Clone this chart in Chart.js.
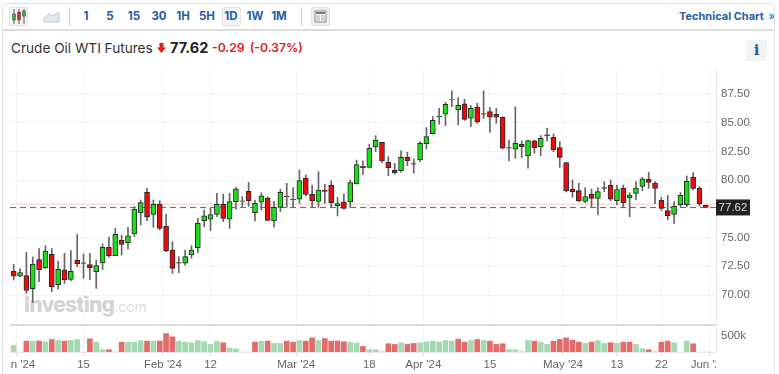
<!DOCTYPE html>
<html>
<head>
<meta charset="utf-8">
<title>Crude Oil WTI Futures</title>
<script src="https://cdn.jsdelivr.net/npm/chart.js@4"></script>
<style>
  html, body { margin: 0; padding: 0; background: #fff; width: 779px; height: 374px; overflow: hidden; }
  body { position: relative; font-family: Inter, "Liberation Sans", sans-serif; }
  .abs { position: absolute; white-space: nowrap; }
  #frame { left: 2px; top: 3px; width: 773px; height: 380px; border: 1px solid #e4e4e4; border-radius: 4px; box-sizing: border-box; z-index: 2; }
  #toolbarLine { left: 3px; top: 29px; width: 772px; height: 2px; background: #dcdcdc; }
  .sep { top: 7px; width: 1px; height: 19px; background: #cfcfcf; }
  .tf { top: 9px; width: 24px; text-align: center; font-size: 11.5px; font-weight: 700; color: #2360a5; line-height: 15px; }
  .box { border: 1px solid #e2e2e2; border-radius: 2px; background: #f4f4f4; box-sizing: border-box; }
  #title { left: 11px; top: 39px; font-size: 13.6px; color: #333; line-height: 18px; }
  #price { left: 170px; top: 39px; font-size: 14.5px; font-weight: 700; color: #222; line-height: 18px; }
  #change { left: 212px; top: 39px; font-size: 12.2px; font-weight: 600; color: #e0201c; line-height: 18px; word-spacing: 2px; }
  #tech { left: 679px; top: 9px; font-size: 11px; font-weight: 700; color: #2360a5; line-height: 15px; }
  #infoBox { left: 746px; top: 40px; width: 21px; height: 21px; background: #f3f3f3; text-align: center; color: #2360a5; font: 700 15px/21px "DejaVu Serif", serif; }
  #mark { left: 24px; top: 291px; font-size: 21px; font-weight: 800; color: #d4d4d4; letter-spacing: -0.75px; line-height: 28px; }
  #mark span { font-size: 14px; font-weight: 400; color: #dcdcdc; letter-spacing: 0; }
  #markDot { left: 83px; top: 295px; width: 3px; height: 3px; border-radius: 2px; background: #f7d3a6; }
  canvas { position: absolute; left: 0; top: 0; }
</style>
</head>
<body>
<div class="abs" id="frame"></div>
<div class="abs" id="toolbarLine"></div>

<div class="abs box" style="left:9px;top:7px;width:19px;height:19px"></div>
<svg class="abs" style="left:9px;top:7px" width="19" height="19">
  <path d="M5 2V17M10 2V17M15 2V17" stroke="#555" stroke-width="1"/>
  <rect x="3.5" y="7" width="3" height="6" fill="#2db52d" stroke="#555" stroke-width=".6"/>
  <rect x="8.5" y="5" width="3" height="8" fill="#e02020" stroke="#555" stroke-width=".6"/>
  <rect x="13.5" y="4" width="3" height="5" fill="#2db52d" stroke="#555" stroke-width=".6"/>
</svg>
<svg class="abs" style="left:43px;top:10px" width="17" height="13">
  <path d="M1 12V8L6 4L10 6L16 2V12Z" fill="#dfe7f2" stroke="#b7c7dc" stroke-width="1"/>
</svg>
<div class="abs sep" style="left:69px"></div>
<div class="abs tf" style="left:74px">1</div>
<div class="abs tf" style="left:98px">5</div>
<div class="abs tf" style="left:122px">15</div>
<div class="abs tf" style="left:147px">30</div>
<div class="abs tf" style="left:171px">1H</div>
<div class="abs tf" style="left:195px">5H</div>
<div class="abs box" style="left:222px;top:7px;width:19px;height:19px"></div>
<div class="abs tf" style="left:219px">1D</div>
<div class="abs tf" style="left:243px">1W</div>
<div class="abs tf" style="left:267px">1M</div>
<div class="abs sep" style="left:301px"></div>
<div class="abs box" style="left:311px;top:7px;width:19px;height:19px;background:#eee"></div>
<svg class="abs" style="left:311px;top:7px" width="19" height="19">
  <path d="M4 4H15V15H4Z" fill="#fff" stroke="#888" stroke-width="1"/>
  <path d="M5 6H14" stroke="#777" stroke-width="2"/>
  <path d="M5 9H9M5 11H9M5 13H9M10 9H14M10 11H14M10 13H14" stroke="#aaa" stroke-width="1"/>
</svg>
<div class="abs" id="tech">Technical Chart <span style="font-weight:400;margin-left:2px">»</span></div>

<div class="abs" id="title">Crude Oil WTI Futures</div>
<svg class="abs" style="left:157px;top:43px" width="9" height="10">
  <path d="M2.5 0H6.5V4.5H9L4.5 10L0 4.5H2.5Z" fill="#e0201c"/>
</svg>
<div class="abs" id="price">77.62</div>
<div class="abs" id="change">-0.29 (-0.37%)</div>
<div class="abs" id="infoBox">i</div>
<div class="abs" id="mark">Investing<span>.com</span></div>
<div class="abs" id="markDot"></div>

<canvas id="chart" width="779" height="374"></canvas>

<script>
var opens = [
  72.06,71.65,71.7,70.55,73.08,72.38,73.54,70.9,72.18,71.36,
  73.02,72.8,72.64,72.03,72.79,74.15,73.42,74.76,74.56,75.31,
  77.17,78.94,77.02,77.92,76.0,73.92,72.82,72.76,73.48,74.12,
  76.44,76.59,77.02,77.89,76.59,78.12,78.15,79.02,77.17,78.07,
  78.41,76.44,77.63,78.6,78.35,78.33,80.18,78.76,78.15,79.14,
  79.54,77.78,78.1,78.1,79.66,81.2,81.11,82.88,83.29,81.55,
  80.85,80.82,81.98,81.43,81.75,83.17,84.04,85.49,85.73,86.97,
  86.1,86.63,85.38,86.34,85.78,85.96,85.73,85.47,82.83,82.68,
  83.12,82.13,83.41,82.88,83.93,83.72,82.82,81.52,79.22,79.08,
  78.15,78.76,78.41,79.34,79.57,78.21,79.31,78.47,78.85,79.46,
  80.07,79.75,78.24,77.34,77.02,77.86,77.86,80.27,79.28,77.8
];
var closes = [
  71.65,71.95,70.4,72.7,72.2,73.83,70.73,72.24,71.34,72.06,
  72.7,72.74,72.38,72.55,74.15,73.42,75.28,74.41,75.14,77.46,
  78.04,76.82,77.89,75.8,73.83,72.32,72.76,73.34,73.92,76.24,
  76.9,76.99,77.89,76.67,78.12,79.23,78.2,78.21,77.98,78.62,
  76.5,77.63,78.94,78.55,78.3,79.95,78.76,78.18,79.14,79.02,
  78.04,77.95,77.54,79.78,81.34,81.09,82.77,83.49,81.67,81.09,
  80.65,81.98,81.69,81.38,83.2,83.78,85.2,85.58,86.6,87.0,
  86.51,85.29,86.25,85.06,85.73,85.47,85.47,82.77,82.77,83.2,
  82.88,83.43,82.83,83.64,83.84,82.62,81.98,79.05,78.99,78.18,
  78.56,78.41,78.99,79.28,78.33,79.17,78.04,78.7,79.31,80.12,
  79.8,79.28,77.54,76.9,77.72,78.67,79.89,79.28,77.95,77.62
];
var highs = [
  72.67,72.3,73.7,73.3,74.05,74.3,74.05,72.96,73.63,73.86,
  75.28,73.57,73.63,73.05,74.44,75.02,75.8,75.22,75.89,77.69,
  78.27,79.28,78.27,78.21,77.02,74.64,73.34,73.9,74.3,76.67,
  77.4,77.54,78.85,78.79,78.85,79.37,78.56,79.8,78.27,78.91,
  78.56,78.12,79.2,79.72,79.34,80.88,80.44,79.57,80.73,79.63,
  79.92,78.5,78.79,80.01,81.75,81.67,83.12,83.87,83.29,82.04,
  81.46,82.54,82.42,81.84,83.35,84.57,85.52,86.25,86.77,87.76,
  87.18,87.03,86.48,86.68,87.76,86.31,86.25,85.52,83.49,86.37,
  83.41,83.49,83.49,83.87,84.5,84.01,83.34,81.55,80.01,79.72,
  79.34,79.22,79.34,79.86,80.01,79.57,79.57,78.91,79.86,80.24,
  80.68,79.86,78.5,78.67,78.12,78.91,80.36,80.65,79.43,77.82
];
var lows = [
  71.3,71.6,70.15,69.35,71.15,72.3,70.3,70.5,71.0,71.25,
  72.47,71.45,71.36,70.58,72.23,73.28,73.42,73.48,74.0,75.08,
  76.1,76.47,75.89,75.66,73.77,71.89,71.95,72.6,73.2,73.68,
  75.95,75.6,76.82,76.38,75.8,77.46,77.7,77.7,76.44,77.4,
  76.47,75.9,77.25,77.63,77.63,77.98,78.62,77.63,77.63,77.98,
  77.63,76.88,77.46,77.63,79.66,80.5,81.09,82.48,81.52,80.39,
  80.53,80.68,81.26,80.59,81.61,82.71,84.0,84.86,84.74,86.39,
  84.8,85.2,84.65,84.94,85.38,84.16,84.94,82.71,81.67,81.9,
  81.96,81.03,82.33,82.13,83.41,82.47,81.11,78.96,78.5,78.12,
  78.04,77.63,76.96,78.99,78.21,77.83,77.63,76.82,78.27,79.08,
  79.28,77.94,77.34,76.53,76.24,77.69,77.69,79.14,77.75,77.6
];
// volume in thousands, its colour does not always follow the candle
var volumes = [
  200,0,330,330,330,310,380,350,330,350,
  380,10,400,300,70,70,30,300,300,300,
  350,330,330,330,560,460,330,300,280,350,
  310,230,330,280,120,100,0,20,300,330,
  330,260,260,330,300,350,330,430,350,410,
  330,330,310,300,270,170,70,70,30,250,
  230,280,230,260,280,310,330,300,350,330,
  390,300,350,380,350,330,230,250,70,70,
  30,350,330,300,230,330,380,430,360,300,
  260,300,350,260,280,260,300,300,230,100,
  70,30,300,330,280,0,330,250,0,0
];
var volumeUp = [
  1,1,0,1,0,1,0,1,0,1,
  1,1,0,1,1,0,1,0,1,1,
  1,0,1,0,0,0,1,1,1,1,
  1,1,1,0,1,1,1,1,0,1,
  0,1,1,0,0,1,0,0,1,0,
  0,0,0,1,1,0,1,1,0,0,
  0,1,0,0,1,1,1,1,1,1,
  0,0,1,0,1,0,0,0,1,1,
  0,1,0,1,1,0,0,0,0,0,
  1,0,1,1,0,1,0,0,1,1,
  0,0,0,0,1,1,1,0,0,0
];
var dateTicks = [0.5, 11, 23.5, 31, 44.5, 56, 64.5, 75, 86.5, 95, 102, 109.5];
var dateLabels = ["Jan '24", '15', "Feb '24", '12', "Mar '24", '18', "Apr '24", '15', "May '24", '13', '22', "Jun '24"];
var priceTicks = [70, 72.5, 75, 77.5, 80, 82.5, 85, 87.5];
var lastPrice = 77.62;
var prevClose = 77.91;

var GREEN = '#17e017';
var RED = '#ee0a0a';
var AXIS_FONT = {family: '"Liberation Sans", sans-serif', size: 11.5};
var xMin = -0.58;
var xMax = 110.6;
var volTop = 820;

function priceLabel(chart) {
  var ctx = chart.ctx;
  var y = chart.scales.y.getPixelForValue(lastPrice);
  ctx.save();
  ctx.fillStyle = '#222';
  ctx.fillRect(716, y - 8, 34, 16);
  ctx.fillStyle = '#ddd';
  ctx.font = '11.5px "Liberation Sans", sans-serif';
  ctx.textAlign = 'center';
  ctx.textBaseline = 'middle';
  ctx.fillText(lastPrice.toFixed(2), 733, y + 0.5);
  ctx.restore();
}

// the first and last date labels are cut off at the plot edges
function maskLabels(chart) {
  var ctx = chart.ctx;
  var a = chart.chartArea;
  ctx.save();
  ctx.fillStyle = '#fff';
  ctx.fillRect(0, a.bottom + 5, a.left, 20);
  ctx.fillRect(a.right, a.bottom + 5, 45, 20);
  ctx.restore();
}

var edgePlugin = {
  id: 'edges',
  afterDraw: function(chart) {
    maskLabels(chart);
    priceLabel(chart);
  }
};

function toPoints(a, b) {
  return a.map(function(v, i) { return {x: i, y: [v, b[i]]}; });
}

var volumeColors = volumes.map(function(v, i) {
  if (v < 50) return volumeUp[i] ? '#dcf0e2' : '#f8d5d5';
  return volumeUp[i] ? '#a5d9b3' : '#e56b6b';
});

new Chart(document.getElementById('chart'), {
  type: 'bar',
  plugins: [edgePlugin],
  data: {
    datasets: [
      {
        label: 'Body',
        order: 1,
        data: toPoints(opens, closes),
        backgroundColor: closes.map(function(c, i) { return c >= opens[i] ? GREEN : RED; }),
        borderColor: '#2a2a2a',
        borderWidth: 1,
        borderSkipped: false,
        barThickness: 5,
        grouped: false,
        yAxisID: 'y'
      },
      {
        label: 'Wick',
        order: 2,
        data: toPoints(lows, highs),
        backgroundColor: '#666',
        barThickness: 1,
        grouped: false,
        yAxisID: 'y'
      },
      {
        label: 'Last',
        type: 'line',
        order: 3,
        data: [{x: xMin, y: lastPrice}, {x: xMax, y: lastPrice}],
        borderColor: '#666',
        borderWidth: 1,
        borderDash: [6, 4],
        pointRadius: 0,
        yAxisID: 'y'
      },
      {
        label: 'Previous close',
        type: 'line',
        order: 4,
        data: [{x: xMin, y: prevClose}, {x: xMax, y: prevClose}],
        borderColor: '#f6c9c9',
        borderWidth: 1,
        pointRadius: 0,
        yAxisID: 'y'
      },
      {
        label: 'Volume',
        order: 5,
        data: volumes.map(function(v, i) { return {x: i, y: v}; }),
        backgroundColor: volumeColors,
        barThickness: 5,
        grouped: false,
        yAxisID: 'vol'
      }
    ]
  },
  options: {
    responsive: false,
    animation: false,
    events: [],
    layout: {padding: {left: 10, top: 70, right: 0, bottom: 0}},
    plugins: {legend: {display: false}, tooltip: {enabled: false}},
    scales: {
      x: {
        type: 'linear',
        offset: false,
        min: xMin,
        max: xMax,
        afterBuildTicks: function(s) {
          s.ticks = dateTicks.map(function(v) { return {value: v}; });
        },
        afterFit: function(s) {
          s.paddingLeft = 0;
          s.paddingRight = 0;
          s.height = 22;
        },
        border: {color: '#e4eaf2'},
        grid: {offset: false, color: '#f4f4f4', tickColor: '#dfe3e8', tickLength: 4},
        ticks: {
          autoSkip: false,
          maxRotation: 0,
          padding: 2,
          color: '#666',
          font: AXIS_FONT,
          callback: function(v) { return dateLabels[dateTicks.indexOf(v)]; }
        }
      },
      y: {
        position: 'right',
        stack: 'panes',
        stackWeight: 255,
        min: 67.39,
        max: 89.58,
        afterBuildTicks: function(s) {
          s.ticks = priceTicks.map(function(v) { return {value: v}; });
        },
        afterFit: function(s) { s.width = 63; },
        border: {color: '#e4eaf2'},
        grid: {color: '#f4f4f4', tickLength: 0},
        ticks: {
          autoSkip: false,
          padding: 5,
          color: '#666',
          font: AXIS_FONT,
          callback: function(v) { return v.toFixed(2); }
        }
      },
      vol: {
        position: 'right',
        stack: 'panes',
        stackWeight: 27,
        min: 0,
        max: volTop,
        afterBuildTicks: function(s) {
          s.ticks = [{value: 500}, {value: volTop}];
        },
        afterFit: function(s) { s.width = 63; },
        border: {color: '#e4eaf2'},
        grid: {
          tickLength: 0,
          lineWidth: function(c) { return c.tick && c.tick.value === volTop ? 2 : 1; },
          color: function(c) { return c.tick && c.tick.value === volTop ? '#dcdcdc' : 'rgba(0,0,0,0)'; }
        },
        ticks: {
          autoSkip: false,
          padding: 5,
          color: '#666',
          font: AXIS_FONT,
          callback: function(v) { return v === 500 ? '500k' : ''; }
        }
      }
    }
  }
});
</script>
</body>
</html>
